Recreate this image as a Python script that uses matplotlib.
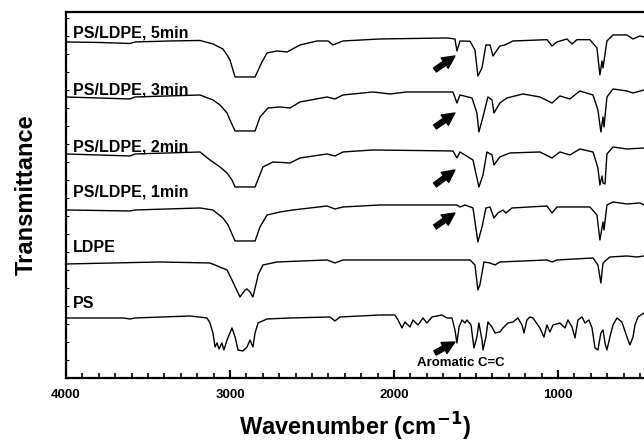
import numpy as np
import matplotlib
matplotlib.use("Agg")
import matplotlib.pyplot as plt
from matplotlib.ticker import MultipleLocator

plt.rcParams['font.family'] = ['Liberation Sans', 'DejaVu Sans']
plt.rcParams['font.weight'] = 'bold'
plt.rcParams['mathtext.default'] = 'bf'

# FTIR spectra (wavenumber in cm-1, relative transmittance, a.u.)
w_5min = [4000, 3793, 3610, 3579, 3366, 3183, 3104, 3043, 3018, 3000, 2969, 2847, 2805, 2774,
          2713, 2652, 2573, 2469, 2402, 2372, 2311, 2085, 1677, 1628, 1616, 1597, 1536, 1506,
          1488, 1463, 1439, 1414, 1396, 1354, 1323, 1274, 1067, 1036, 1006, 945, 914, 884,
          805, 762, 744, 731, 725, 701, 664, 579, 542, 500, 475]
t_5min = [0, -0.5, -1.5, 0, 1, 1.5, -2, -7, -13, -18, -35, -35, -20, -11,
          -9, -10, -3, 1, 1, -3, 1, 3, 4, 3, -9, 1, 0.7, -8,
          -34, -26, -3, -3, -14, -4, -3, 1, 2.3, -4, 0, 3, -2, 2.3,
          2.3, -6, -33, -19, -26, 1, 7, 7, 3, 6, 5]

w_3min = [4000, 3610, 3579, 3183, 3104, 3061, 3018, 3000, 2969, 2847, 2817, 2768, 2695, 2634,
          2573, 2408, 2360, 2311, 2128, 2024, 1921, 1640, 1616, 1597, 1524, 1494, 1482, 1457,
          1427, 1402, 1390, 1354, 1311, 1213, 1110, 1036, 988, 927, 866, 786, 756, 738,
          725, 719, 701, 664, 579, 542, 475]
t_3min = [0, -2, 0, 2, -3, -8, -16, -23, -34, -34, -20, -11, -10, -11,
          -5, 0, -2, 2, 5, 3, 5, 5, -6, 2, -1, -16, -35, -20,
          0, -3, -16, -6, -1, 3, 0, -6, 1, -2, 6, 2, -13, -35,
          -20, -30, 0, 8, 6, 4, 7]

w_2min = [4000, 3610, 3579, 3183, 3122, 3061, 3018, 2988, 2969, 2847, 2799, 2738, 2634, 2573,
          2408, 2360, 2311, 2128, 1640, 1616, 1597, 1518, 1482, 1457, 1433, 1402, 1390, 1354,
          1293, 1110, 1036, 988, 927, 866, 786, 756, 744, 731, 725, 713, 701, 664, 579, 475]
t_2min = [0, -2, 0, 2, -6, -13, -19, -26, -33, -33, -13, -8, -9, -4,
          0, -2, 2, 4, 3, -4, 2, -6, -33, -21, 2, -1, -11, -3,
          1, 2, -4, 2, -1, 5, 2, -14, -31, -22, -29, -30, 0, 7, 5, 6]

w_1min = [4000, 3610, 3579, 3183, 3104, 3043, 3012, 2969, 2847, 2817, 2774, 2695, 2616, 2408,
          2360, 2311, 2085, 1616, 1597, 1567, 1518, 1488, 1463, 1439, 1414, 1390, 1366, 1335,
          1317, 1280, 1067, 1036, 1006, 805, 762, 744, 725, 719, 701, 664, 579, 500, 475]
t_1min = [0, -1, 0, 2, 0, -8, -15, -31, -31, -17, -5, -2, 0, 4,
          1, 3, 5, 5, 3, 5, 2, -32, -17, 2, 3, -8, -3, 0,
          -3, 2, 4, -3, 3, 3, -5, -30, -12, -20, 5, 8, 6, 7, 5]

w_ldpe = [4000, 3427, 3122, 3018, 2988, 2939, 2908, 2896, 2878, 2860, 2835, 2829, 2799, 2713,
          2408, 2360, 2311, 2085, 1536, 1506, 1488, 1476, 1451, 1414, 1384, 1354, 1067, 1036,
          1006, 786, 756, 738, 725, 683, 579, 518, 475]
t_ldpe = [0, 2, 1, -6, -16, -33, -26, -25, -28, -33, -16, -11, -1, 2,
          4, 1, 4, 4, 4, -1, -26, -21, 2, 1, -1, 2, 4, 2,
          4, 6, -1, -19, 1, 7, 8, 7, 8]

w_ps = [4000, 3650, 3610, 3579, 3244, 3140, 3122, 3104, 3091, 3079, 3067, 3049, 3037, 3018,
        2988, 2969, 2951, 2921, 2896, 2878, 2860, 2847, 2829, 2774, 2634, 2390, 2360, 2329,
        2085, 1994, 1975, 1951, 1933, 1902, 1884, 1853, 1823, 1799, 1768, 1707, 1677, 1646,
        1628, 1616, 1603, 1585, 1567, 1555, 1530, 1512, 1494, 1482, 1463, 1457, 1439, 1427,
        1402, 1384, 1354, 1335, 1305, 1274, 1244, 1219, 1207, 1189, 1171, 1152, 1110, 1085,
        1067, 1049, 1030, 988, 957, 939, 914, 896, 878, 853, 835, 811, 792, 774, 756, 738,
        725, 713, 701, 683, 664, 640, 610, 579, 561, 542, 530, 512, 475]
t_ps = [0, 0, -1, 0, 2, 0, -5, -15, -29, -25, -31, -25, -32, -22,
        -10, -19, -32, -33, -29, -22, -29, -15, -5, -1, 0, 1, -3, 1,
        3, 3, -2, -10, -4, -9, -2, -7, 0, -5, 1, 3, 0, 0,
        -12, -25, -9, -2, -5, -2, -7, -30, -19, -5, -22, -32, -19, -4,
        -9, -15, -14, -10, -5, -4, 0, -7, -15, -2, 1, 0, -10, -19,
        -7, -14, -7, -5, -10, -2, -9, -20, -2, 1, -5, -2, -10, -30, -32, -15,
        -12, -25, -32, -19, -7, 0, -4, -19, -27, -19, -7, 1, 5]

names = ["PS/LDPE, 5min", "PS/LDPE, 3min", "PS/LDPE, 2min", "PS/LDPE, 1min", "LDPE", "PS"]
wavenumbers = [w_5min, w_3min, w_2min, w_1min, w_ldpe, w_ps]
signals = [t_5min, t_3min, t_2min, t_1min, t_ldpe, t_ps]
offsets = [336, 281, 224, 168, 114, 60]
label_y = [345, 288, 231, 186, 130, 74]

# arrows marking the aromatic C=C band (head / tail heights, data units)
arrow_head_y = [322, 265, 208, 165]
arrow_tail_y = [308, 251, 193, 151]

fig = plt.figure(figsize=(6.44, 4.45), dpi=100)
ax = fig.add_axes([0.1025, 0.1506, 0.8975, 0.8225])

for w, t, off, name, ly in zip(wavenumbers, signals, offsets, names, label_y):
    ax.plot(w, np.array(t) + off, color='black', linewidth=1.0)
    ax.text(0.012, ly, name, transform=ax.get_yaxis_transform(), fontsize=11.5,
            fontweight='bold', va='center', ha='left')

arrow_kw = dict(arrowstyle='simple,head_length=0.9,head_width=0.9,tail_width=0.35',
                color='black', shrinkA=0, shrinkB=0)
for hy, ty in zip(arrow_head_y, arrow_tail_y):
    ax.annotate("", xy=(1628, hy), xytext=(1750, ty), arrowprops=arrow_kw)

ax.annotate("", xy=(1628, 36), xytext=(1750, 25), arrowprops=arrow_kw)
ax.text(1591, 15, "Aromatic C=C", fontsize=9.5, fontweight='bold', ha='center', va='center')

ax.set_xlim(4000, 475)
ax.set_ylim(0, 366)
ax.xaxis.set_major_locator(MultipleLocator(1000))
ax.xaxis.set_minor_locator(MultipleLocator(100))
ax.yaxis.set_minor_locator(MultipleLocator(18))
ax.set_yticks([])
ax.tick_params(axis='x', which='major', direction='in', length=6, width=1.5,
               labelsize=9.5, pad=8)
ax.tick_params(axis='x', which='minor', direction='in', length=3.5, width=1.2)
ax.tick_params(axis='y', which='minor', direction='in', length=2.5, width=0.8)
for lab in ax.get_xticklabels():
    lab.set_fontweight('bold')
for side in ['left', 'bottom', 'top']:
    ax.spines[side].set_linewidth(1.6)
ax.spines['right'].set_visible(False)

ax.set_xlabel("Wavenumber (cm$^{-1}$)", fontsize=17, fontweight='bold', labelpad=7)
ax.set_ylabel("Transmittance", fontsize=17, fontweight='bold', labelpad=17)

fig.savefig("out.png", dpi=100)
